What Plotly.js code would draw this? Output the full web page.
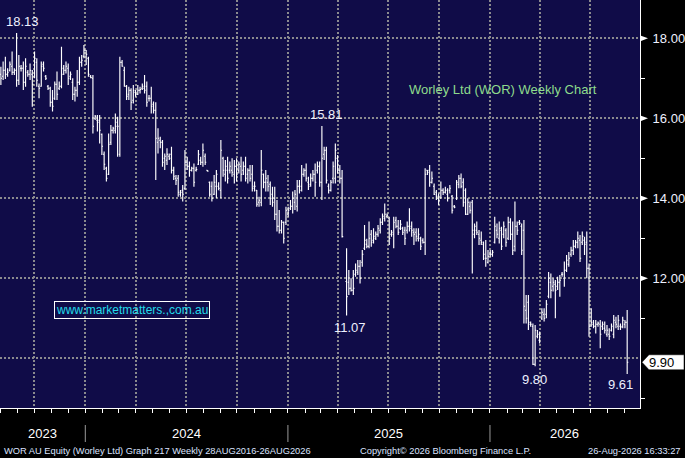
<!DOCTYPE html>
<html><head><meta charset="utf-8">
<script src="https://cdn.plot.ly/plotly-3.0.1.min.js"></script>
<style>html,body{margin:0;padding:0;background:#000;overflow:hidden;} #chart{width:685px;height:458px;}</style>
</head><body><div id="chart"></div>
<script>
// ---- data ----
const openPx = [
17.10,17.05,17.20,17.10,17.20,17.30,17.15,17.20,16.95,17.25,
17.25,16.90,17.15,17.10,17.10,17.05,17.40,16.80,16.80,17.35,
17.05,16.80,16.75,16.40,16.50,16.85,16.75,16.80,17.25,17.20,
17.25,17.05,16.90,16.60,16.70,16.90,17.40,17.55,17.70,17.50,
17.05,17.00,16.00,15.95,15.95,15.60,15.10,14.75,14.60,15.40,
15.70,15.70,15.90,15.10,17.40,17.20,16.80,16.60,16.70,16.45,
16.65,16.60,16.70,16.75,16.75,16.80,16.50,16.50,16.35,16.20,
15.40,15.45,15.40,15.00,14.95,15.05,15.10,14.70,14.50,14.50,
14.10,14.20,14.25,14.90,14.80,14.70,14.75,14.70,14.85,14.95,
14.90,15.05,14.70,14.40,14.30,14.10,14.30,14.30,14.20,15.00,
14.60,14.70,14.70,14.70,14.60,14.80,14.70,14.80,14.70,14.80,
14.60,14.70,14.60,14.30,14.20,13.90,13.90,14.60,14.40,14.40,
14.35,14.10,14.00,13.60,13.30,13.20,13.40,13.40,13.60,13.75,
13.80,13.90,13.80,14.30,14.30,14.60,14.70,14.40,14.35,14.50,
14.60,14.70,14.80,14.40,15.10,15.20,14.30,14.20,14.50,14.50,
15.00,14.70,14.50,null,11.92,11.90,11.75,11.70,12.10,12.15,
12.30,12.40,12.75,12.85,12.80,13.10,12.95,13.00,13.10,13.20,
13.40,13.50,13.55,13.50,13.10,13.10,13.45,13.30,13.25,13.25,
13.20,13.20,13.30,13.30,13.15,13.15,13.00,13.00,12.95,12.90,
14.70,14.70,14.40,14.30,14.15,14.00,14.00,14.20,14.15,14.10,
14.20,14.05,13.80,14.00,14.35,14.50,14.40,14.20,13.60,13.80,
13.90,13.10,13.20,13.10,12.95,12.85,12.50,12.40,12.60,12.60,
12.90,13.20,13.00,13.20,13.10,13.20,13.00,13.40,13.10,12.80,
13.30,13.40,13.30,13.20,11.20,11.40,10.85,10.80,9.85,10.55,
10.45,11.00,11.10,11.10,11.55,11.90,11.80,11.85,11.80,11.90,
12.10,12.00,12.20,12.35,12.60,12.70,12.80,12.90,12.95,12.90,
12.95,12.90,12.25,10.80,10.85,10.80,10.85,10.85,10.80,10.75,
10.60,10.60,10.70,10.60,10.90,10.80,10.80,10.80,10.85,10.90
];
const highPx = [
17.29,17.42,17.54,17.25,17.42,17.67,17.25,18.13,17.58,17.33,
17.42,17.50,17.21,17.37,17.21,17.67,17.50,16.87,17.42,17.42,
17.08,16.83,16.79,16.71,16.92,17.17,16.92,17.79,17.33,17.42,
17.37,17.17,17.00,16.79,17.21,17.54,17.58,17.83,17.71,17.54,
17.08,17.08,16.08,16.08,16.08,15.62,15.17,14.79,15.62,15.83,
15.79,16.12,16.04,17.54,17.46,17.29,16.83,16.79,16.75,16.83,
16.71,16.83,16.79,16.87,17.08,16.92,16.58,16.79,16.42,16.40,
15.75,15.54,15.46,15.12,15.25,15.12,15.29,14.79,14.58,14.58,
14.21,14.33,15.21,15.04,14.92,14.79,14.87,14.79,15.21,15.04,
15.37,15.12,14.71,14.42,14.42,14.58,14.71,14.40,15.46,15.04,
14.96,15.04,14.92,15.00,14.96,15.00,14.92,15.04,14.92,15.04,
14.75,14.83,14.83,14.42,14.21,14.04,15.21,14.62,14.71,14.58,
14.42,14.29,14.29,13.96,13.71,13.46,13.42,13.79,13.79,13.96,
14.17,14.21,14.46,14.46,14.83,14.75,14.87,14.54,14.62,14.71,
14.87,14.92,14.92,15.81,15.29,15.29,14.37,14.46,14.92,15.37,
15.08,14.83,14.71,null,12.75,12.21,12.00,12.21,12.37,12.46,
12.46,12.71,13.33,12.99,13.42,13.21,13.25,13.17,13.33,13.50,
13.62,13.87,13.62,13.54,13.21,13.54,13.54,13.46,13.46,13.29,
13.29,13.42,13.75,13.42,13.25,13.25,13.25,13.04,13.00,14.75,
14.71,14.83,14.67,14.37,14.21,14.12,14.42,14.25,14.29,14.25,
14.33,14.08,13.83,14.46,14.58,14.62,14.50,14.25,14.00,13.92,
13.96,13.37,13.42,13.21,13.17,12.92,12.96,12.71,12.71,12.71,
13.54,13.37,13.42,13.29,13.42,13.25,13.54,13.50,13.42,13.92,
13.42,13.46,13.37,13.46,11.58,11.58,10.92,10.87,10.83,10.71,
10.67,11.25,11.25,11.46,12.16,12.12,12.00,11.96,12.04,12.08,
12.16,12.42,12.58,12.66,12.79,12.96,12.96,13.17,13.08,13.17,
13.04,13.17,12.37,11.25,10.96,10.96,10.92,10.96,10.92,10.92,
10.83,10.75,10.87,11.08,11.04,11.08,10.87,11.04,10.96,11.21
];
const lowPx = [
16.83,16.96,16.98,17.04,17.17,17.08,17.08,16.79,16.83,17.17,
16.71,16.79,17.04,16.96,16.29,17.00,16.79,16.50,16.79,17.17,
16.96,16.71,16.29,16.17,16.46,16.46,16.71,16.75,17.08,17.12,
16.83,16.96,16.46,16.42,16.54,16.83,17.29,17.50,17.33,17.04,
17.00,15.62,15.96,15.67,15.37,15.08,14.71,14.42,14.58,15.33,
15.62,15.62,15.04,15.04,17.29,16.79,16.46,16.46,16.21,16.37,
16.54,16.58,16.62,16.71,16.62,16.29,16.42,16.12,16.12,14.46,
15.12,15.25,14.79,14.71,14.83,14.96,14.62,14.46,14.33,14.04,
14.04,13.92,14.21,14.71,14.54,14.67,14.29,14.67,14.83,14.83,
14.79,14.83,14.67,14.04,13.92,14.08,14.00,14.20,14.00,14.54,
14.42,14.37,14.62,14.54,14.37,14.42,14.62,14.42,14.58,14.42,
14.37,14.42,14.17,14.17,13.79,13.79,13.80,14.25,14.17,14.17,
13.83,13.79,13.46,13.17,13.12,13.12,12.87,13.33,13.54,13.71,
13.62,13.71,13.67,14.12,14.17,14.54,14.42,14.21,14.29,14.42,
14.04,14.62,14.29,13.96,14.96,14.37,14.12,14.17,14.37,14.37,
14.62,14.37,13.02,null,11.07,11.58,11.67,11.58,12.04,12.08,
11.87,12.29,12.71,12.75,12.75,12.79,12.87,12.96,13.04,13.12,
13.33,13.42,13.50,12.83,13.04,12.75,13.25,13.08,13.21,13.08,
12.83,13.12,13.17,13.04,12.83,12.92,12.92,12.71,12.87,12.58,
14.58,14.29,14.37,14.08,13.96,13.83,14.00,14.08,14.12,13.92,
14.12,13.62,13.75,13.96,14.25,14.25,13.79,13.58,13.58,13.62,
12.12,13.00,13.08,12.83,12.83,12.46,12.29,12.37,12.54,12.54,
12.87,13.00,12.87,12.71,13.00,12.79,12.96,12.96,12.58,12.67,
13.08,13.33,12.58,10.87,10.87,10.71,10.79,9.83,9.80,10.50,
10.37,10.96,10.92,11.00,11.50,11.50,11.67,11.00,11.71,11.54,
12.04,11.79,12.16,12.29,12.54,12.58,12.75,12.75,12.41,12.83,
12.58,12.00,10.54,10.79,10.75,10.62,10.79,10.25,10.71,10.62,
10.54,10.46,10.67,10.50,10.75,10.71,10.71,10.75,10.75,9.61
];
const closePx = [
17.00,17.20,17.10,17.15,17.35,17.15,17.20,16.95,17.30,17.25,
16.90,17.30,17.10,17.20,16.85,17.50,16.95,16.75,17.30,17.25,
17.00,16.75,16.40,16.30,16.85,16.60,16.80,17.10,17.20,17.30,
17.00,17.10,16.60,16.70,16.90,17.40,17.45,17.70,17.60,17.10,
17.02,15.80,16.05,15.90,15.70,15.30,14.85,14.50,15.35,15.70,
15.75,15.80,15.80,17.40,17.30,16.80,16.55,16.70,16.40,16.70,
16.60,16.70,16.72,16.80,16.70,16.40,16.50,16.30,16.20,15.50,
15.50,15.40,14.90,15.05,15.10,15.00,14.70,14.55,14.45,14.15,
14.15,14.10,14.90,14.80,14.70,14.75,14.40,14.72,15.10,14.90,
15.20,14.90,14.68,14.10,14.00,14.40,14.60,14.25,15.20,14.70,
14.80,14.50,14.80,14.65,14.80,14.60,14.85,14.60,14.80,14.50,
14.70,14.50,14.25,14.30,13.85,13.95,14.70,14.40,14.50,14.30,
14.00,13.90,13.60,13.30,13.20,13.40,13.00,13.70,13.70,13.80,
14.00,14.10,14.30,14.20,14.60,14.70,14.50,14.30,14.50,14.60,
14.40,14.80,14.40,15.00,15.20,14.45,14.20,14.40,14.80,15.20,
14.70,14.50,13.04,null,11.54,11.75,11.70,11.75,12.20,12.30,
12.00,12.60,12.95,12.80,13.00,12.90,13.05,13.10,13.25,13.40,
13.55,13.60,13.58,13.00,13.15,13.40,13.30,13.15,13.35,13.15,
13.00,13.30,13.25,13.20,13.10,13.05,13.10,12.80,12.90,14.60,
14.65,14.40,14.50,14.10,14.05,13.95,14.20,14.15,14.20,14.00,
14.25,13.70,13.78,14.40,14.50,14.30,13.90,13.60,13.90,13.70,
13.20,13.30,13.15,13.00,12.90,12.60,12.50,12.55,12.60,12.65,
13.30,13.10,13.25,12.80,13.30,12.90,13.40,13.10,12.70,13.30,
13.20,13.38,12.70,11.30,11.00,10.90,10.85,9.85,10.70,10.60,
10.60,11.15,11.00,11.35,12.00,11.70,11.90,11.70,11.90,11.95,
12.10,12.20,12.45,12.50,12.70,12.80,12.90,13.00,12.50,13.05,
12.85,12.25,10.80,10.90,10.80,10.85,10.88,10.60,10.85,10.70,
10.70,10.55,10.80,10.95,10.85,10.95,10.78,10.95,10.90,9.90
];
const firstBarDate = '2023-08-01T12:00:00Z';
const barStepDays = 4.055;
const xRange = ['2023-07-30 22:00', '2026-09-29 00:00'];
const yRange = [8.757, 18.957];
const priceTicks = [10, 12, 14, 16, 18];
const minorPriceTicks = [9, 11, 13, 15, 17];
const yearLabels = ['2023', '2024', '2025', '2026'];
const yearStarts = ['2024-01-01', '2025-01-01', '2026-01-01'];
const chartTitle = 'Worley Ltd (WOR) Weekly Chart';
const siteLabel = 'www.marketmatters.,com.au';
const footerLeft = 'WOR AU Equity (Worley Ltd) Graph 217 Weekly 28AUG2016-26AUG2026';
const footerMid = 'Copyright\u00A9 2026 Bloomberg Finance L.P.';
const footerRight = '26-Aug-2026 16:33:27';
// bars whose extreme is labelled: index, field, label offset (px)
const markedBars = [
  {i: 7,   field: 'high', dx: 6,  dy: 12},
  {i: 143, field: 'high', dx: 5,  dy: 11},
  {i: 154, field: 'low',  dx: 3,  dy: -12},
  {i: 238, field: 'low',  dx: -1, dy: -13},
  {i: 279, field: 'low',  dx: -7, dy: -11}
];

// ---- build ----
const DAY = 86400000;
const toStr = ms => new Date(ms).toISOString().slice(0, 19).replace('T', ' ');
const toMs = s => Date.parse(s.replace(' ', 'T') + (s.length <= 10 ? 'T00:00:00Z' : ':00Z'));
const t0 = Date.parse(firstBarDate);
const dates = openPx.map((_, k) => toStr(t0 + k * barStepDays * DAY));

const PW = 640, PH = 408;                 // plot area size in px
const py = v => (v - yRange[0]) / (yRange[1] - yRange[0]);
const txtFont = 'Liberation Sans, Arial, sans-serif';
const labelColor = '#eef0ff';
const gridColor = '#8a8a8e';
const lastClose = closePx[closePx.length - 1];
// price ticks covered by the last-price tag are not labelled
const tagCovers = v => Math.abs(v - lastClose) < 0.35;

const trace = {
  type: 'ohlc', x: dates, open: openPx, high: highPx, low: lowPx, close: closePx,
  increasing: {line: {color: '#ffffff', width: 1.15}},
  decreasing: {line: {color: '#ffffff', width: 1.15}},
  tickwidth: 0.5, hoverinfo: 'skip', showlegend: false
};

const annotations = [];
const shapes = [];

// year labels centred on their visible span, with separators
const bounds = [toMs(xRange[0])].concat(yearStarts.map(toMs), [toMs(xRange[1])]);
yearLabels.forEach((lab, k) => {
  annotations.push({
    xref: 'x', yref: 'paper', x: toStr((bounds[k] + bounds[k + 1]) / 2), y: -25 / PH,
    text: lab, showarrow: false, xanchor: 'center', yanchor: 'middle',
    font: {family: txtFont, size: 13, color: '#ffffff'}
  });
});
yearStarts.forEach(d => {
  shapes.push({type: 'line', xref: 'x', yref: 'paper', x0: d, x1: d,
    y0: -17 / PH, y1: -34 / PH, line: {color: '#9a9a9a', width: 1}});
});

// triangles at major price ticks
priceTicks.filter(v => !tagCovers(v)).forEach(v => {
  const yv = py(v), h = 2.6 / PH;
  shapes.push({type: 'path', xref: 'paper', yref: 'paper',
    path: `M ${1 + 1 / PW},${yv + h} L ${1 + 8 / PW},${yv} L ${1 + 1 / PW},${yv - h} Z`,
    fillcolor: '#ffffff', line: {width: 0}});
});

// labelled extremes
markedBars.forEach(m => {
  const arr = m.field === 'high' ? highPx : lowPx;
  annotations.push({
    xref: 'x', yref: 'y', x: dates[m.i], y: arr[m.i], text: arr[m.i].toFixed(2),
    showarrow: false, xanchor: 'center', yanchor: 'middle', xshift: m.dx, yshift: m.dy,
    font: {family: txtFont, size: 13, color: labelColor}
  });
});

// last price tag
const yl = py(lastClose), hb = 7.5 / PH;
shapes.push({type: 'path', xref: 'paper', yref: 'paper',
  path: `M ${1 + 2 / PW},${yl} L ${1 + 9 / PW},${yl + hb} L ${1 + 44 / PW},${yl + hb} L ${1 + 44 / PW},${yl - hb} L ${1 + 9 / PW},${yl - hb} Z`,
  fillcolor: '#ffffff', line: {color: '#000000', width: 0.5}});
annotations.push({xref: 'paper', yref: 'paper', x: 1 + 21 / PW, y: yl, text: lastClose.toFixed(2),
  showarrow: false, xanchor: 'center', yanchor: 'middle',
  font: {family: txtFont, size: 13, color: '#000000'}});

// chart title and website box
annotations.push({xref: 'paper', yref: 'paper', x: 503 / PW, y: (PH - 89) / PH, text: chartTitle,
  showarrow: false, xanchor: 'center', yanchor: 'middle',
  font: {family: txtFont, size: 13, color: '#8edb8c'}});
annotations.push({xref: 'paper', yref: 'paper', x: 132.3 / PW, y: (PH - 310.3) / PH, text: siteLabel,
  showarrow: false, xanchor: 'center', yanchor: 'middle', bordercolor: '#ffffff', borderwidth: 1, borderpad: 1,
  font: {family: txtFont, size: 12, color: '#22dbe8'}});

// footer
const fy = (PH - 451) / PH, footFont = {family: txtFont, size: 9.3, color: '#dbe3ff'};
annotations.push({xref: 'paper', yref: 'paper', x: 2 / PW, y: fy, text: footerLeft, showarrow: false,
  xanchor: 'left', yanchor: 'middle', font: footFont});
annotations.push({xref: 'paper', yref: 'paper', x: 358 / PW, y: fy, text: footerMid, showarrow: false,
  xanchor: 'left', yanchor: 'middle', font: footFont});
annotations.push({xref: 'paper', yref: 'paper', x: 683 / PW, y: fy, text: footerRight, showarrow: false,
  xanchor: 'right', yanchor: 'middle', font: footFont});

const layout = {
  width: 685, height: 458,
  margin: {l: 0, r: 45, t: 0, b: 50, pad: 0},
  paper_bgcolor: '#000000', plot_bgcolor: '#100c48',
  showlegend: false, dragmode: false,
  xaxis: {
    type: 'date', range: xRange, automargin: false, fixedrange: true,
    rangeslider: {visible: false},
    tickmode: 'linear', tick0: '2023-01-01', dtick: 'M3',
    showgrid: true, gridcolor: gridColor, gridwidth: 2, griddash: '2px,2px',
    ticks: 'outside', ticklen: 4, tickwidth: 1, tickcolor: '#ffffff',
    showticklabels: false, zeroline: false,
    showline: true, linecolor: '#ffffff', linewidth: 1,
    minor: {tickmode: 'linear', tick0: '2023-01-01', dtick: 'M1', ticks: 'outside',
            ticklen: 4, tickwidth: 1, tickcolor: '#ffffff', showgrid: false}
  },
  yaxis: {
    side: 'right', range: yRange, automargin: false, fixedrange: true,
    tickmode: 'array', tickvals: priceTicks,
    ticktext: priceTicks.map(v => tagCovers(v) ? '' : v.toFixed(2)),
    ticks: 'outside', ticklen: 9, tickcolor: 'rgba(0,0,0,0)',
    tickfont: {family: txtFont, size: 13, color: labelColor},
    showgrid: true, gridcolor: gridColor, gridwidth: 2, griddash: '2px,2px', zeroline: false,
    showline: true, linecolor: '#ffffff', linewidth: 1,
    minor: {tickmode: 'array', tickvals: minorPriceTicks, ticks: 'outside', ticklen: 4,
            tickwidth: 1, tickcolor: '#ffffff', showgrid: false}
  },
  shapes: shapes,
  annotations: annotations
};

Plotly.newPlot('chart', [trace], layout, {staticPlot: true, displayModeBar: false});
</script>
</body></html>
